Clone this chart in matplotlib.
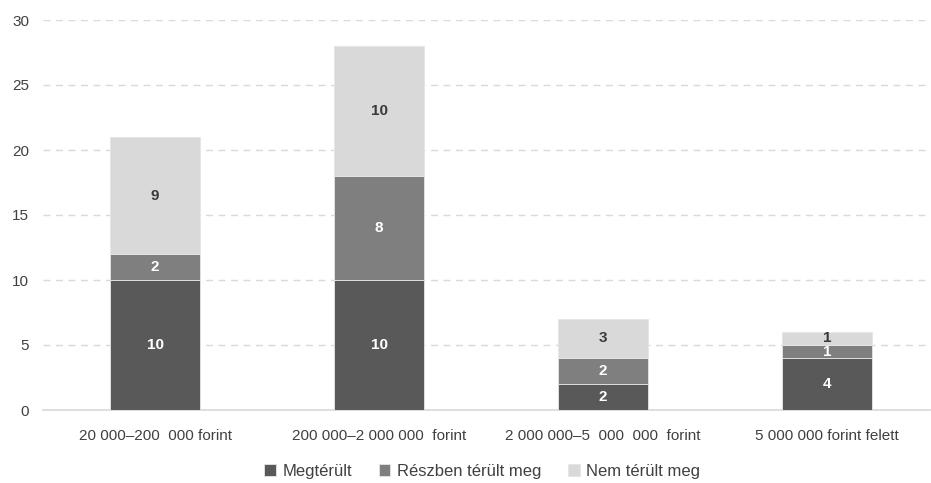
import matplotlib
matplotlib.use("Agg")
import matplotlib.pyplot as plt
import numpy as np

plt.rcParams['font.family'] = ['Liberation Sans Narrow', 'Liberation Sans', 'DejaVu Sans']

categories = ["20 000–200  000 forint", "200 000–2 000 000  forint",
              "2 000 000–5  000  000  forint", "5 000 000 forint felett"]
megterult = [10, 10, 2, 4]
reszben = [2, 8, 2, 1]
nem = [9, 10, 3, 1]
series_names = ["Megtérült", "Részben térült meg", "Nem térült meg"]
colors = ["#595959", "#7f7f7f", "#d9d9d9"]
label_colors = ["white", "white", "#3a3a3a"]

fig = plt.figure(figsize=(9.31, 4.83), dpi=100)
ax = fig.add_axes([43 / 931, 73 / 483, 888 / 931, 390 / 483])

x = np.arange(len(categories))
bottom = np.zeros(len(categories))
for vals, name, col, lc in zip([megterult, reszben, nem], series_names, colors, label_colors):
    vals = np.array(vals, dtype=float)
    ax.bar(x, vals, width=0.4, bottom=bottom, color=col, label=name,
           edgecolor="#e6e6e6", linewidth=0.6, zorder=3)
    for xi, b, v in zip(x, bottom, vals):
        ax.text(xi, b + v / 2, f"{int(v)}", ha="center", va="center",
                color=lc, fontsize=11, fontweight="bold", zorder=4)
    bottom += vals

ax.set_ylim(0, 30)
ax.set_xlim(-0.5, 3.464)
ax.set_yticks(range(0, 31, 5))
ax.yaxis.grid(True, linestyle=(0, (5, 4)), color="#d9d9d9", linewidth=1, zorder=0)
ax.set_axisbelow(True)
for s in ["top", "right", "left"]:
    ax.spines[s].set_visible(False)
ax.spines["bottom"].set_color("#d9d9d9")
ax.spines["bottom"].set_linewidth(1.2)
ax.set_xticks(x)
ax.set_xticklabels(categories)
ax.tick_params(axis="both", length=0, labelsize=11, labelcolor="#404040")
ax.tick_params(axis="x", pad=14)
ax.tick_params(axis="y", pad=10)

leg = fig.legend(loc="lower center", bbox_to_anchor=(0.518, -0.022), ncol=3, frameon=False,
                 fontsize=12, handlelength=0.7, handleheight=0.7, handletextpad=0.4,
                 columnspacing=1.6)
for t in leg.get_texts():
    t.set_color("#404040")

fig.savefig("out.png", dpi=100)
